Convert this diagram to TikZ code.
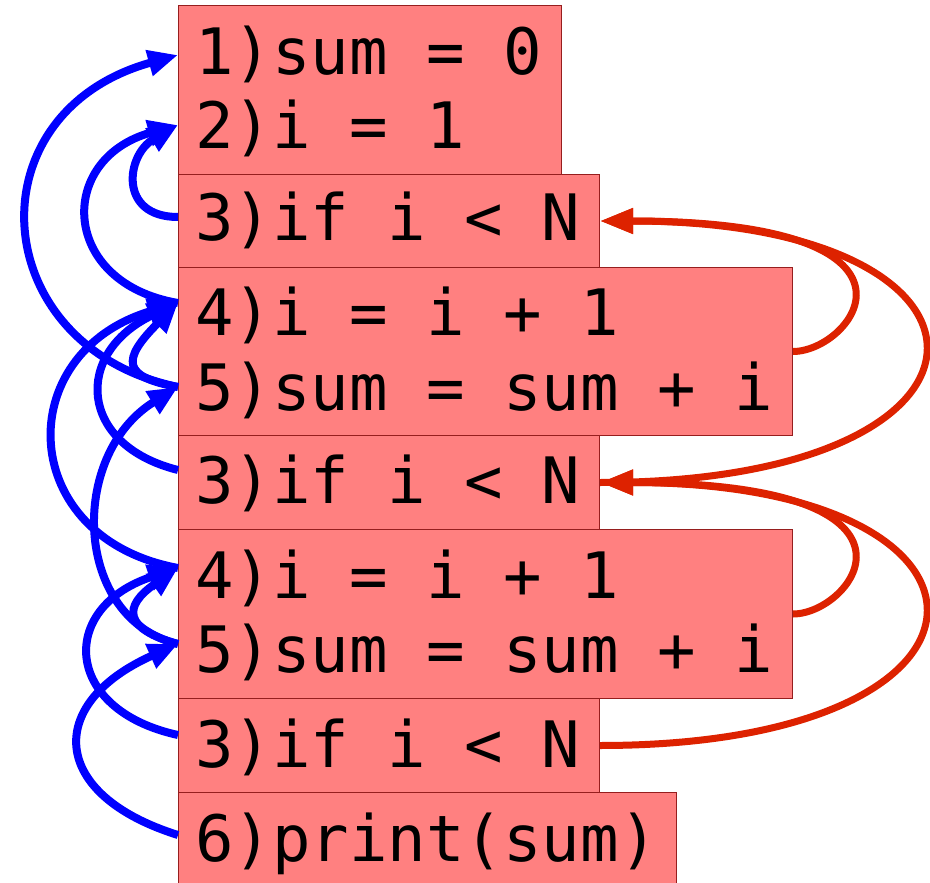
\documentclass[tikz,border=0pt]{standalone}
\usepackage{fontspec}
\newfontfamily\codefont{DejaVu Sans Mono}
\usetikzlibrary{arrows.meta}
\definecolor{boxfill}{RGB}{255,128,128}
\definecolor{boxline}{RGB}{150,30,30}
\definecolor{flowred}{RGB}{221,34,0}
\definecolor{depblue}{RGB}{0,0,255}
\begin{document}
\begin{tikzpicture}[x=1pt,y=-1pt,
  codebox/.style={draw=boxline, fill=boxfill, line width=1pt, anchor=north west, inner sep=0pt},
  codeline/.style={anchor=base west, inner sep=0pt, font=\codefont\fontsize{64pt}{74pt}\selectfont},
  dep/.style={draw=depblue, line width=8pt, -{Triangle[length=30pt,width=25pt]}},
  ctl/.style={draw=flowred, line width=7pt, -{Triangle[length=33pt,width=24pt]}}]
\useasboundingbox (0,0) rectangle (930,883);
% boxes
\node[codebox, minimum width=383pt, minimum height=169pt] (bA) at (178,5) {};
\node[codebox, minimum width=421pt, minimum height=93pt] (bB) at (178,174) {};
\node[codebox, minimum width=614pt, minimum height=168pt] (bC) at (178,267) {};
\node[codebox, minimum width=421pt, minimum height=94pt] (bD) at (178,435) {};
\node[codebox, minimum width=614pt, minimum height=169pt] (bE) at (178,529) {};
\node[codebox, minimum width=421pt, minimum height=94pt] (bF) at (178,698) {};
\node[codebox, minimum width=498pt, minimum height=94pt] (bG) at (178,792) {};
% text
\node[codeline] (t1) at (195,75) {1)sum = 0};
\node[codeline] (t2) at (195,148) {2)i = 1};
\node[codeline] (t3a) at (195,240) {3)if i < N};
\node[codeline] (t4a) at (195,335) {4)i = i + 1};
\node[codeline] (t5a) at (195,410) {5)sum = sum + i};
\node[codeline] (t3b) at (195,503) {3)if i < N};
\node[codeline] (t4b) at (195,598) {4)i = i + 1};
\node[codeline] (t5b) at (195,672) {5)sum = sum + i};
\node[codeline] (t3c) at (195,767) {3)if i < N};
\node[codeline] (t6) at (195,861) {6)print(sum)};
% ports on the left side
\coordinate (pA1) at ([yshift=-50pt]bA.north west);
\coordinate (pA2) at ([yshift=-120pt]bA.north west);
\coordinate (pB3) at ([yshift=-43pt]bB.north west);
\coordinate (pC4) at ([yshift=-36pt]bC.north west);
\coordinate (pC5) at ([yshift=-120pt]bC.north west);
\coordinate (pD3) at ([yshift=-35pt]bD.north west);
\coordinate (pE4) at ([yshift=-39pt]bE.north west);
\coordinate (pE5) at ([yshift=-115pt]bE.north west);
\coordinate (pF3) at ([yshift=-37pt]bF.north west);
\coordinate (pG6) at ([yshift=-43pt]bG.north west);
% data dependencies (blue)
\draw[dep] (pC5) .. controls +(-192,-40) and +(-208,58) .. (pA1);
\draw[dep] (pB3) .. controls +(-60,0) and +(-52,30) .. (pA2);
\draw[dep] (pC4) .. controls +(-118,-20) and +(-122,34) .. (pA2);
\draw[dep] (pD3) .. controls +(-100,-25) and +(-105,50) .. (pC4);
\draw[dep] (pC5) .. controls +(-56,-10) and +(-57,57) .. (pC4);
\draw[dep] (pE4) .. controls +(-162,-30) and +(-168,50) .. (pC4);
\draw[dep] (pE5) .. controls +(-105,-25) and +(-110,68) .. (pC5);
\draw[dep] (pE5) .. controls +(-55,-15) and +(-55,38) .. (pE4);
\draw[dep] (pF3) .. controls +(-115,-25) and +(-120,40) .. (pE4);
\draw[dep] (pG6) .. controls +(-128,-40) and +(-134,60) .. (pE5);
% control dependencies (red)
\draw[ctl] (bC.east) .. controls +(60,0) and +(353,0) .. (bB.east);
\draw[ctl] (bD.east) .. controls +(431,0) and +(431,0) .. (bB.east);
\draw[ctl] (bE.east) .. controls +(60,0) and +(353,0) .. (bD.east);
\draw[ctl] (bF.east) .. controls +(431,0) and +(431,0) .. (bD.east);
\end{tikzpicture}
\end{document}
